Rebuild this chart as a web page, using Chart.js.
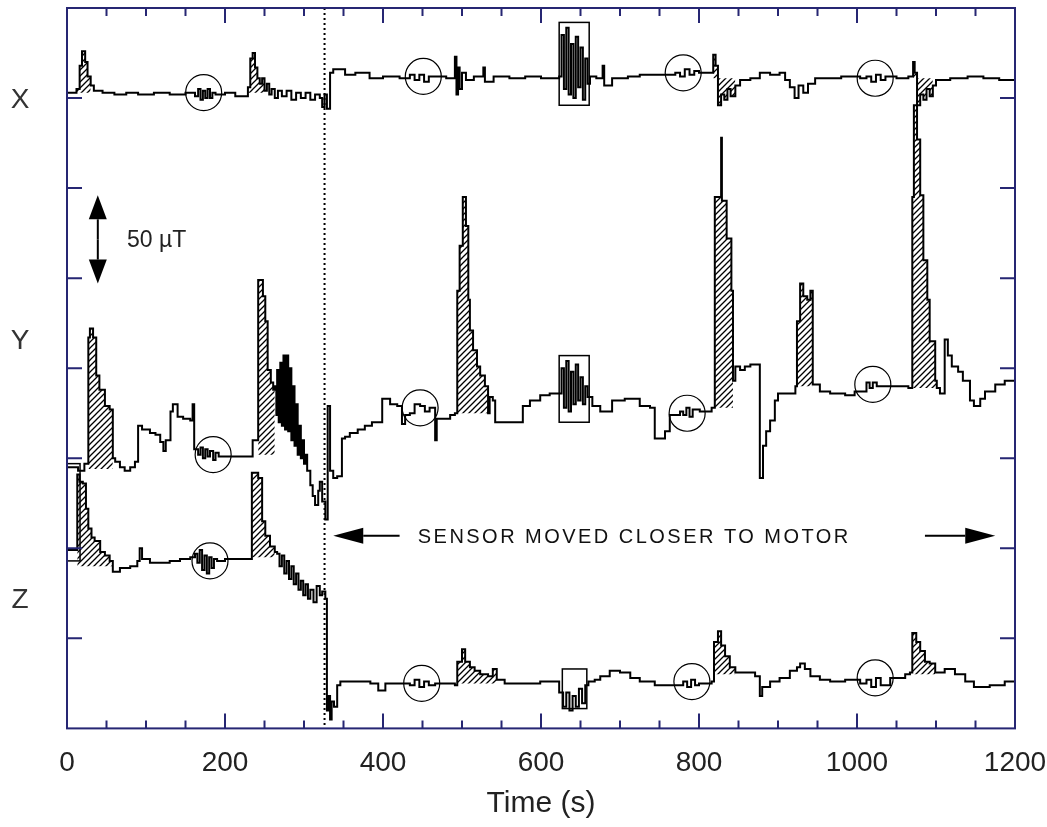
<!DOCTYPE html>
<html>
<head>
<meta charset="utf-8">
<script src="https://cdn.jsdelivr.net/npm/chart.js@4"></script>
<style>
   html, body { margin: 0; padding: 0; background: #fff; }
   #app { width: 1047px; height: 827px; }
</style>
</head>
<body>
<div id="app"><canvas id="myChart"></canvas></div>
<script>
// time (s) / field (µT, offset per channel)
const traceX = [[0,353],[12,355],[16,368],[19,376],[23,370],[26,362],[30,357],[34,354],[45,353],[60,352],[75,353],[90,352],[110,353],[130,352],[150,353],[162,351],[166,355],[169,349],[172,354],[175,350],[178,355],[181,350],[184,353],[188,352],[200,353],[213,351],[229,356],[232,372],[235,375],[238,367],[241,361],[244,358],[247,361],[250,354],[253,358],[256,352],[259,355],[263,350],[267,354],[272,351],[278,354],[284,349],[290,353],[296,350],[302,353],[308,349],[314,352],[320,350],[323,345],[326,352],[329,344],[333,364],[337,366],[352,363],[365,364],[383,361],[400,362],[421,361],[434,363],[440,360],[446,363],[452,359],[458,362],[466,362],[480,361],[491,373],[493,352],[495,367],[497,355],[500,364],[505,360],[515,362],[527,367],[529,359],[540,362],[560,361],[580,362],[600,361],[623,362],[626,385],[629,355],[632,389],[635,352],[638,380],[641,350],[644,384],[647,356],[650,378],[653,349],[656,372],[659,358],[662,362],[670,361],[678,368],[680,357],[690,361],[710,362],[725,363],[750,363],[770,364],[776,362],[782,366],[788,363],[794,365],[800,364],[816,364],[818,374],[821,368],[824,346],[828,352],[832,349],[836,355],[840,351],[846,357],[852,360],[865,361],[877,364],[890,363],[902,364],[909,360],[915,356],[921,350],[926,357],[932,353],[938,358],[947,361],[960,361],[980,362],[1004,361],[1012,362],[1018,359],[1024,363],[1030,360],[1036,362],[1050,361],[1065,362],[1071,370],[1073,364],[1076,346],[1080,352],[1084,349],[1088,355],[1092,351],[1096,357],[1100,360],[1118,361],[1140,362],[1160,361],[1180,360],[1200,360]];

const traceY = [[0,145],[14,143],[22,147],[27,217],[29,222],[33,217],[37,196],[41,188],[48,179],[54,177],[58,150],[61,148],[67,145],[73,143],[80,145],[86,148],[90,168],[95,166],[105,164],[112,163],[118,159],[122,154],[125,160],[131,176],[134,180],[140,173],[147,172],[156,171],[159,180],[161,155],[166,152],[169,156],[172,150],[175,155],[178,151],[181,154],[185,149],[188,153],[192,151],[213,151],[235,160],[242,249],[248,240],[251,226],[254,199],[258,192],[261,188],[263,190],[265,174],[266,199],[268,170],[270,203],[272,168],[274,207],[276,166],[278,207],[280,165],[282,200],[284,160],[286,190],[288,157],[290,180],[292,152],[294,168],[296,150],[298,160],[300,147],[302,152],[304,143],[308,135],[311,129],[314,124],[318,132],[320,137],[323,126],[327,116],[330,179],[333,143],[337,139],[342,140],[348,161],[352,162],[358,164],[368,166],[377,168],[386,170],[399,183],[409,180],[418,179],[424,169],[428,174],[434,175],[440,180],[447,179],[453,176],[459,178],[466,160],[468,172],[478,172],[485,174],[491,175],[494,243],[497,268],[501,295],[505,279],[508,238],[510,221],[514,210],[519,201],[523,196],[529,190],[533,175],[535,184],[539,182],[542,170],[561,170],[577,179],[586,182],[599,185],[611,186],[623,186],[626,200],[629,178],[632,204],[635,176],[638,198],[641,180],[644,202],[647,182],[650,195],[653,180],[656,190],[659,184],[665,179],[675,176],[690,182],[706,183],[725,179],[738,178],[744,161],[757,165],[763,174],[776,176],[780,174],[784,178],[788,173],[792,177],[801,176],[816,178],[820,295],[828,328],[829,293],[835,272],[841,243],[843,193],[846,201],[852,199],[858,201],[865,202],[877,139],[881,157],[885,165],[890,171],[896,182],[900,186],[915,186],[922,190],[924,226],[928,247],[932,240],[937,238],[941,243],[944,191],[953,187],[966,186],[985,185],[997,187],[1012,192],[1016,189],[1020,192],[1025,190],[1042,190],[1065,189],[1070,295],[1072,346],[1076,327],[1080,296],[1084,260],[1089,238],[1092,215],[1099,193],[1101,189],[1105,186],[1111,216],[1115,207],[1120,201],[1128,198],[1134,193],[1143,182],[1148,179],[1156,183],[1162,187],[1175,191],[1187,193],[1200,194]];

const traceZ = [[0,99],[13,141],[16,137],[20,136],[24,122],[27,111],[31,106],[35,104],[42,98],[48,96],[54,93],[58,87],[67,89],[80,90],[89,93],[92,100],[95,94],[105,92],[118,92],[130,93],[143,94],[156,95],[162,97],[165,92],[168,99],[171,88],[174,96],[177,86],[180,95],[183,89],[186,94],[190,93],[200,94],[232,94],[234,142],[242,139],[247,115],[251,107],[257,101],[263,98],[266,97],[269,90],[272,96],[275,86],[278,93],[281,83],[284,90],[287,80],[290,86],[293,77],[296,82],[299,74],[302,80],[305,72],[308,77],[312,70],[316,79],[320,74],[323,76],[327,72],[329,10],[331,18],[333,5],[335,15],[338,12],[342,24],[346,26],[377,26],[384,25],[394,21],[403,25],[434,24],[440,27],[446,23],[452,26],[458,24],[466,25],[491,24],[494,37],[500,44],[504,37],[510,34],[516,32],[523,30],[533,29],[539,33],[544,27],[554,25],[573,25],[599,26],[618,26],[623,20],[628,12],[632,20],[636,10],[640,18],[644,12],[648,22],[652,14],[656,24],[660,26],[668,27],[675,29],[687,32],[700,31],[713,28],[725,26],[744,24],[763,24],[780,26],[785,23],[790,27],[795,24],[800,25],[816,26],[819,48],[824,54],[828,46],[833,40],[839,34],[846,31],[858,31],[871,29],[877,18],[880,23],[890,26],[902,28],[915,32],[924,34],[928,36],[934,33],[941,29],[953,27],[966,26],[985,27],[1004,25],[1012,27],[1018,23],[1024,28],[1030,24],[1042,28],[1061,30],[1067,31],[1070,53],[1075,48],[1080,43],[1086,37],[1092,36],[1099,31],[1111,33],[1124,30],[1137,26],[1148,23],[1168,24],[1187,26],[1200,26]];

// hatched spans: [from s, to s, baseline µT]
const hatchX = [[12,30,353],[229,250,353],[818,846,361],[1071,1096,361]];
const hatchY = [[27,58,144],[242,263,152],[494,533,175],[820,843,178],[924,944,190],[1070,1101,189]];
const hatchZ = [[13,58,90],[234,263,95],[494,544,25],[819,846,30],[1070,1099,30]];

// circled quiet periods [s, µT] and boxed periods [from s, to s, low µT, high µT]
const circles = [[173,353],[451,362],[780,364],[1023,361],[185,152],[447,178],[785,175],[1020,191],[181,93],[449,25],[791,26],[1023,28]];
const boxes = [[623,661,346,392],[623,661,170,207],[627,658,11,33],[0,16.5,93,147]];

const channels = ['X', 'Y', 'Z'];
const channelLevels = [349, 215, 71];
const movedAt = 326;
const note = 'SENSOR MOVED CLOSER TO MOTOR';
const scaleNote = '50 µT';

const ctx = document.getElementById('myChart').getContext('2d');

function makeHatch(gap, width) {
   const c = document.createElement('canvas');
   c.width = gap; c.height = gap;
   const g = c.getContext('2d');
   g.strokeStyle = '#000';
   g.lineWidth = width;
   g.beginPath();
   g.moveTo(0, gap); g.lineTo(gap, 0);
   g.moveTo(-2, 2); g.lineTo(2, -2);
   g.moveTo(gap - 2, gap + 2); g.lineTo(gap + 2, gap - 2);
   g.stroke();
   return ctx.createPattern(c, 'repeat');
}

const hatch = makeHatch(6, 1.3);

function toPts(arr) {
   return arr.map(p => ({ x: p[0], y: p[1] }));
}

const datasets = [];

[[traceX, hatchX], [traceY, hatchY], [traceZ, hatchZ]].forEach(([trace, spans]) => {
   spans.forEach(([a, b, base]) => {
      datasets.push({
         data: toPts(trace.filter(p => p[0] >= a && p[0] <= b)),
         borderWidth: 0,
         borderColor: 'rgba(0,0,0,0)',
         backgroundColor: hatch,
         fill: { value: base },
         stepped: true,
         pointRadius: 0,
      });
   });
   datasets.push({
      data: toPts(trace),
      borderColor: '#000',
      borderWidth: 2,
      fill: false,
      stepped: true,
      pointRadius: 0,
   });
});

function arrow(c, x1, y1, x2, y2, len, half) {
   const ang = Math.atan2(y2 - y1, x2 - x1);
   const bx = x2 - len * Math.cos(ang), by = y2 - len * Math.sin(ang);
   c.beginPath();
   c.moveTo(x1, y1);
   c.lineTo(bx, by);
   c.stroke();
   c.beginPath();
   c.moveTo(x2, y2);
   c.lineTo(bx - half * Math.sin(ang), by + half * Math.cos(ang));
   c.lineTo(bx + half * Math.sin(ang), by - half * Math.cos(ang));
   c.closePath();
   c.fill();
}

const overlay = {
   id: 'overlay',
   afterDatasetsDraw(chart) {
      const c = chart.ctx;
      const a = chart.chartArea;
      const x = chart.scales.x, y = chart.scales.y;
      c.save();

      // sensor moved marker
      c.strokeStyle = '#000';
      c.lineWidth = 2;
      c.setLineDash([2, 3]);
      const mx = x.getPixelForValue(movedAt);
      c.beginPath();
      c.moveTo(mx, a.top);
      c.lineTo(mx, a.bottom);
      c.stroke();
      c.setLineDash([]);

      c.lineWidth = 1.2;
      circles.forEach(([t, v]) => {
         c.beginPath();
         c.arc(x.getPixelForValue(t), y.getPixelForValue(v), 18, 0, Math.PI * 2);
         c.stroke();
      });

      c.lineWidth = 1.5;
      boxes.forEach(([t0, t1, v0, v1]) => {
         const px = x.getPixelForValue(t0), py = y.getPixelForValue(v1);
         c.strokeRect(px, py, x.getPixelForValue(t1) - px, y.getPixelForValue(v0) - py);
      });

      // frame and inward ticks
      c.strokeStyle = '#262673';
      c.lineWidth = 2;
      c.strokeRect(a.left, a.top, a.right - a.left, a.bottom - a.top);
      c.beginPath();
      for (let t = 0; t <= 1200; t += 50) {
         const px = x.getPixelForValue(t);
         const len = t % 200 === 0 ? 15 : 8;
         c.moveTo(px, a.bottom); c.lineTo(px, a.bottom - len);
         c.moveTo(px, a.top); c.lineTo(px, a.top + len);
      }
      for (let v = 50; v < 400; v += 50) {
         const py = y.getPixelForValue(v);
         c.moveTo(a.left, py); c.lineTo(a.left + 15, py);
         c.moveTo(a.right, py); c.lineTo(a.right - 15, py);
      }
      c.stroke();

      // channel names
      c.fillStyle = '#333';
      c.textAlign = 'center';
      c.textBaseline = 'middle';
      c.font = '28px "Liberation Sans", Arial';
      channels.forEach((name, i) => c.fillText(name, a.left - 47, y.getPixelForValue(channelLevels[i])));

      // 50 µT scale arrow
      c.fillStyle = '#000';
      c.strokeStyle = '#000';
      c.lineWidth = 2;
      const sx = x.getPixelForValue(39);
      const sTop = y.getPixelForValue(296), sBot = y.getPixelForValue(247);
      const sMid = (sTop + sBot) / 2;
      arrow(c, sx, sMid, sx, sTop, 24, 9);
      arrow(c, sx, sMid, sx, sBot, 24, 9);
      c.fillStyle = '#222';
      c.textAlign = 'left';
      c.font = '23px "Liberation Sans", Arial';
      c.fillText(scaleNote, x.getPixelForValue(76), y.getPixelForValue(271));

      // sensor moved note
      const ny = y.getPixelForValue(107);
      c.fillStyle = '#000';
      c.lineWidth = 2;
      arrow(c, x.getPixelForValue(421), ny, x.getPixelForValue(337), ny, 30, 8);
      arrow(c, x.getPixelForValue(1086), ny, x.getPixelForValue(1175), ny, 30, 8);
      c.fillStyle = '#111';
      c.font = '20px "Liberation Sans", Arial';
      const nx0 = x.getPixelForValue(444), nx1 = x.getPixelForValue(992);
      const w = c.measureText(note).width;
      c.letterSpacing = ((nx1 - nx0 - w) / note.length).toFixed(2) + 'px';
      c.fillText(note, nx0, ny + 2);
      c.restore();
   }
};

const myChart = new Chart(ctx, {
   type: 'line',
   data: { datasets: datasets },
   options: {
      responsive: true,
      maintainAspectRatio: false,
      animation: false,
      layout: { padding: { left: 67, right: 32, top: 8, bottom: 5 }, autoPadding: false },
      plugins: { legend: { display: false }, tooltip: { enabled: false } },
      scales: {
         x: {
            type: 'linear',
            min: 0,
            max: 1200,
            border: { display: false },
            grid: { display: false, drawTicks: false },
            afterFit: scale => { scale.paddingLeft = 0; scale.paddingRight = 0; },
            ticks: {
               stepSize: 200,
               padding: 18,
               color: '#222',
               callback: v => String(v),
               font: { family: '"Liberation Sans", Arial', size: 28 },
            },
            title: {
               display: true,
               text: 'Time (s)',
               color: '#222',
               padding: { top: -12, bottom: 0 },
               font: { family: '"Liberation Sans", Arial', size: 30 },
            },
         },
         y: { min: 0, max: 400, display: false },
      },
   },
   plugins: [overlay],
});
</script>
</body>
</html>
